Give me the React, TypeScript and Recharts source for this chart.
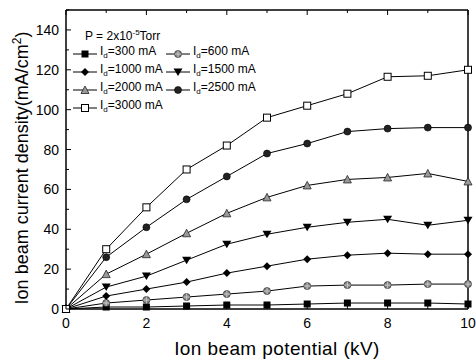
import React from "react";
import { LineChart, Line, XAxis, YAxis } from "recharts";

// ion beam potential (kV)
const potentials = [0, 1, 2, 3, 4, 5, 6, 7, 8, 9, 10];

// current density (mA/cm2) for each discharge current
const id300 = [0, 1, 1, 1.5, 2, 2, 2.5, 3, 3, 3, 2.5];
const id600 = [0, 3, 4.5, 6, 7.5, 9, 11.5, 12, 12, 12.5, 12.5];
const id1000 = [0, 6.5, 10, 13.5, 18, 21.5, 25, 27, 28, 27.5, 27.5];
const id1500 = [0, 11, 16.5, 24.5, 32.5, 37.5, 41, 43.5, 45, 42, 44.5];
const id2000 = [0, 17.5, 27.5, 38, 48, 56, 62, 65, 66, 68, 64];
const id2500 = [0, 26, 41, 55, 66.5, 78, 83, 89, 90.5, 91, 91];
const id3000 = [0, 30, 51, 70, 82, 96, 102, 108, 116.5, 117, 120];

const xTicks = [0, 1, 2, 3, 4, 5, 6, 7, 8, 9, 10];
const yTicks = [0, 10, 20, 30, 40, 50, 60, 70, 80, 90, 100, 110, 120, 130, 140, 150];

type Shape =
  | "square"
  | "crossCircle"
  | "diamond"
  | "triDown"
  | "triUp"
  | "circle"
  | "openSquare";

const series: { key: string; label: string; values: number[]; shape: Shape }[] = [
  { key: "id300", label: "300", values: id300, shape: "square" },
  { key: "id600", label: "600", values: id600, shape: "crossCircle" },
  { key: "id1000", label: "1000", values: id1000, shape: "diamond" },
  { key: "id1500", label: "1500", values: id1500, shape: "triDown" },
  { key: "id2000", label: "2000", values: id2000, shape: "triUp" },
  { key: "id2500", label: "2500", values: id2500, shape: "circle" },
  { key: "id3000", label: "3000", values: id3000, shape: "openSquare" },
];

const data = potentials.map((x, i) => {
  const row: Record<string, number> = { x };
  series.forEach((s) => (row[s.key] = s.values[i]));
  return row;
});

function Marker({ shape, cx, cy }: { shape: Shape; cx: number; cy: number }) {
  const s = 3.5;
  switch (shape) {
    case "square":
      return <rect x={cx - s} y={cy - s} width={2 * s} height={2 * s} fill="#000" />;
    case "openSquare":
      return (
        <rect
          x={cx - s}
          y={cy - s}
          width={2 * s}
          height={2 * s}
          fill="#fff"
          stroke="#000"
          strokeWidth={1}
        />
      );
    case "crossCircle":
      return (
        <g>
          <circle cx={cx} cy={cy} r={s} fill="#888" stroke="#333" strokeWidth={0.8} />
          <path
            d={`M${cx - s} ${cy}H${cx + s}M${cx} ${cy - s}V${cy + s}`}
            stroke="#ddd"
            strokeWidth={0.7}
          />
        </g>
      );
    case "diamond":
      return (
        <polygon
          points={`${cx},${cy - 4} ${cx + 4},${cy} ${cx},${cy + 4} ${cx - 4},${cy}`}
          fill="#000"
        />
      );
    case "triDown":
      return (
        <polygon
          points={`${cx - 4.5},${cy - 3.5} ${cx + 4.5},${cy - 3.5} ${cx},${cy + 4}`}
          fill="#000"
        />
      );
    case "triUp":
      return (
        <polygon
          points={`${cx - 4},${cy + 3.5} ${cx + 4},${cy + 3.5} ${cx},${cy - 4}`}
          fill="#999"
          stroke="#222"
          strokeWidth={0.8}
        />
      );
    case "circle":
      return <circle cx={cx} cy={cy} r={s} fill="#222" stroke="#000" strokeWidth={0.6} />;
  }
}

const BottomTick = ({ x, y, payload }: any) => {
  const major = payload.value % 2 === 0;
  return (
    <g>
      <line x1={x} x2={x} y1={y} y2={y - (major ? 5 : 3)} stroke="#000" />
      {major && (
        <text x={x} y={y + 19} textAnchor="middle" fontSize={14} fill="#000">
          {payload.value}
        </text>
      )}
    </g>
  );
};

const TopTick = ({ x, y, payload }: any) => {
  const major = payload.value % 2 === 0;
  return <line x1={x} x2={x} y1={y} y2={y + (major ? 5 : 3)} stroke="#000" />;
};

const LeftTick = ({ x, y, payload }: any) => {
  const major = payload.value % 20 === 0;
  return (
    <g>
      <line x1={x} x2={x + (major ? 5 : 3)} y1={y} y2={y} stroke="#000" />
      {major && payload.value <= 140 && (
        <text x={x - 7} y={y + 5} textAnchor="end" fontSize={14} fill="#000">
          {payload.value}
        </text>
      )}
    </g>
  );
};

const RightTick = ({ x, y, payload }: any) => {
  const major = payload.value % 20 === 0;
  return <line x1={x} x2={x - (major ? 5 : 3)} y1={y} y2={y} stroke="#000" />;
};

function LegendRow({ shape, label }: { shape: Shape; label: string }) {
  return (
    <div style={{ display: "flex", alignItems: "center", height: 18 }}>
      <svg width={24} height={10} style={{ marginRight: 3 }}>
        <line x1={0} x2={24} y1={5} y2={5} stroke="#000" strokeWidth={1} />
        <Marker shape={shape} cx={12} cy={5} />
      </svg>
      <span>
        I<sub style={{ fontSize: 8 }}>d</sub>={label} mA
      </span>
    </div>
  );
}

export default function App() {
  return (
    <div
      style={{
        position: "absolute",
        left: 0,
        top: 0,
        width: 476,
        height: 360,
        background: "#fff",
        fontFamily: "'Liberation Sans', Arial, sans-serif",
      }}
    >
      <LineChart
        width={476}
        height={360}
        data={data}
        margin={{ top: 9, right: 7, bottom: 31, left: 6 }}
      >
        <XAxis
          dataKey="x"
          type="number"
          domain={[0, 10]}
          ticks={xTicks}
          tickSize={0}
          tickMargin={0}
          tickLine={false}
          height={20}
          axisLine={{ stroke: "#000", strokeWidth: 1.5 }}
          tick={<BottomTick />}
          interval={0}
          label={{
            content: () => (
              <text
                x={277}
                y={355}
                textAnchor="middle"
                fontSize={19}
                letterSpacing={0.4}
                fill="#000"
              >
                Ion beam potential (kV)
              </text>
            ),
          }}
        />
        <XAxis
          xAxisId="top"
          orientation="top"
          dataKey="x"
          type="number"
          domain={[0, 10]}
          ticks={xTicks}
          tickSize={0}
          tickMargin={0}
          tickLine={false}
          height={1}
          axisLine={{ stroke: "#000", strokeWidth: 1.5 }}
          tick={<TopTick />}
          interval={0}
        />
        <YAxis
          type="number"
          domain={[0, 150]}
          ticks={yTicks}
          tickSize={0}
          tickMargin={0}
          tickLine={false}
          width={60}
          axisLine={{ stroke: "#000", strokeWidth: 1.5 }}
          tick={<LeftTick />}
          interval={0}
          label={{
            content: () => (
              <text
                transform="rotate(-90)"
                x={-168}
                y={28}
                textAnchor="middle"
                fontSize={18}
                fill="#000"
              >
                Ion beam current density(mA/cm
                <tspan dy={-7} fontSize={12}>
                  2
                </tspan>
                <tspan dy={7}>)</tspan>
              </text>
            ),
          }}
        />
        <YAxis
          yAxisId="right"
          orientation="right"
          type="number"
          domain={[0, 150]}
          ticks={yTicks}
          tickSize={0}
          tickMargin={0}
          tickLine={false}
          width={1}
          axisLine={{ stroke: "#000", strokeWidth: 1.5 }}
          tick={<RightTick />}
          interval={0}
        />
        {series.map((s) => (
          <Line
            key={s.key}
            dataKey={s.key}
            type="linear"
            stroke="#000"
            strokeWidth={1}
            isAnimationActive={false}
            dot={(p: any) => (
              <Marker key={`${s.key}-${p.index}`} shape={s.shape} cx={p.cx} cy={p.cy} />
            )}
            activeDot={false}
          />
        ))}
      </LineChart>
      <div
        style={{
          position: "absolute",
          left: 73,
          top: 24,
          fontSize: 12,
          color: "#000",
          lineHeight: "18px",
        }}
      >
        <div style={{ marginLeft: 12 }}>
          P = 2x10<sup style={{ fontSize: 8 }}>-5</sup>Torr
        </div>
        <div
          style={{
            display: "grid",
            gridTemplateColumns: "93px 110px",
          }}
        >
          {series.map((s) => (
            <LegendRow key={s.key} shape={s.shape} label={s.label} />
          ))}
        </div>
      </div>
    </div>
  );
}
